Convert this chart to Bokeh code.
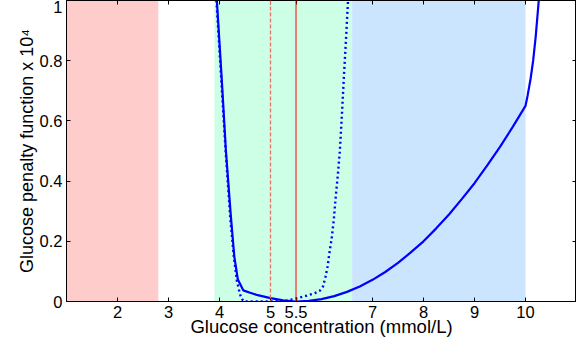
from bokeh.plotting import figure
from bokeh.models import Range1d, FixedTicker, LinearAxis, BoxAnnotation, Span, Title
from bokeh.embed import file_html
from bokeh.resources import INLINE

# ---- data ----
x_ticks = [2, 3, 4, 5, 5.5, 7, 8, 9, 10]
x_tick_labels = ["2", "3", "4", "5", "5.5", "7", "8", "9", "10"]
y_ticks = [0, 0.2, 0.4, 0.6, 0.8, 1.0]
y_tick_labels = ["0", "0.2", "0.4", "0.6", "0.8", "1"]

x_title = "Glucose concentration (mmol/L)"
y_title = "Glucose penalty function x 10\u2074"

# shaded glucose bands (mmol/L)
band_left = [1.0, 3.9, 6.6]
band_right = [2.8, 6.6, 10.0]
band_colors = ["#ffcccc", "#ccffe5", "#cce5ff"]

# reference lines
dashed_ref = 5.0
solid_ref = 5.5

# solid penalty curve
solid_x = [3.948, 4.04, 4.126, 4.223, 4.29, 4.36, 4.466, 4.6, 4.75, 5.0, 5.25, 5.5,
           5.75, 6.0, 6.25, 6.5, 6.75, 7.0, 7.25, 7.5, 7.75, 8.0, 8.25, 8.5, 8.75,
           9.0, 9.25, 9.5, 9.75, 10.0, 10.04, 10.1, 10.15, 10.2, 10.26]
solid_y = [1.0, 0.75, 0.5, 0.283, 0.15, 0.073, 0.037, 0.029, 0.021, 0.011, 0.004, 0.0,
           0.002, 0.008, 0.018, 0.032, 0.05, 0.072, 0.098, 0.128, 0.163, 0.2, 0.243, 0.289, 0.34,
           0.393, 0.452, 0.514, 0.58, 0.65, 0.683, 0.74, 0.8, 0.88, 1.0]

# dotted penalty curve
dotted_x = [3.94, 4.03, 4.12, 4.21, 4.28, 4.34, 4.40, 4.44, 4.48, 5.0, 5.3, 5.5, 5.7,
            5.87, 5.97, 6.03, 6.08, 6.12, 6.16, 6.2, 6.24, 6.28, 6.32, 6.36, 6.40,
            6.44, 6.48, 6.52]
dotted_y = [1.0, 0.75, 0.5, 0.28, 0.15, 0.07, 0.025, 0.008, 0.0, 0.0, 0.002, 0.01, 0.019,
            0.028, 0.036, 0.05, 0.083, 0.117, 0.167, 0.21, 0.27, 0.35, 0.42, 0.5, 0.62,
            0.75, 0.87, 1.0]

FONT = "Liberation Sans"

p = figure(width=576, height=339, output_backend="svg", toolbar_location=None,
           x_range=Range1d(1, 11), y_range=Range1d(0, 1),
           min_border_left=66, min_border_right=0, min_border_top=0, min_border_bottom=38)
p.xgrid.visible = False
p.ygrid.visible = False
p.outline_line_color = "black"
p.outline_line_width = 1
p.outline_line_alpha = 1
p.background_fill_color = "white"
p.border_fill_color = "white"

for l, r, c in zip(band_left, band_right, band_colors):
    p.add_layout(BoxAnnotation(left=l, right=r, fill_color=c, fill_alpha=1.0,
                               line_color=None, level="underlay"))

p.add_layout(Span(location=dashed_ref, dimension="height", line_color="#ec6f6a",
                  line_width=1.3, line_dash="4 2"))
p.add_layout(Span(location=solid_ref, dimension="height", line_color="#ff0000",
                  line_width=1))

p.line(dotted_x, dotted_y, line_color="#0000ff", line_width=2.4, line_dash="2 3")
p.line(solid_x, solid_y, line_color="#0000ff", line_width=2.2)

xlab = {float(t): s for t, s in zip(x_ticks, x_tick_labels)}
ylab = {float(t): s for t, s in zip(y_ticks, y_tick_labels)}

def style(ax, ticks, labels, show):
    ax.ticker = FixedTicker(ticks=ticks)
    ax.major_label_overrides = labels
    ax.major_tick_in = 4
    ax.major_tick_out = 0
    ax.minor_tick_line_color = None
    ax.major_tick_line_color = "black"
    ax.axis_line_color = "black"
    ax.major_label_text_font = FONT
    if show:
        ax.major_label_text_font_size = "16.5px"
        ax.major_label_text_color = "black"
    else:
        ax.major_label_text_font_size = "1px"
        ax.major_label_text_color = None
    ax.axis_label_text_font = FONT
    ax.axis_label_text_font_style = "normal"
    ax.axis_label_text_color = "black"

style(p.xaxis[0], x_ticks, xlab, True)
style(p.yaxis[0], y_ticks, ylab, True)
p.xaxis[0].axis_label = x_title
p.xaxis[0].axis_label_text_font_size = "18.5px"
p.xaxis[0].major_label_standoff = 4
p.xaxis[0].axis_label_standoff = -5
p.yaxis[0].major_label_standoff = 4

# vertical title on the left, centred along the frame
p.add_layout(Title(text=y_title, align="center", offset=-4, standoff=0,
                   text_font=FONT, text_font_size="18px", text_font_style="normal",
                   text_color="black"), "left")

top = LinearAxis()
style(top, x_ticks, xlab, False)
top.major_label_standoff = 0
p.add_layout(top, "above")
right = LinearAxis()
style(right, y_ticks, ylab, False)
right.major_label_standoff = 0
p.add_layout(right, "right")

open("out.html", "w").write(file_html(p, INLINE))
